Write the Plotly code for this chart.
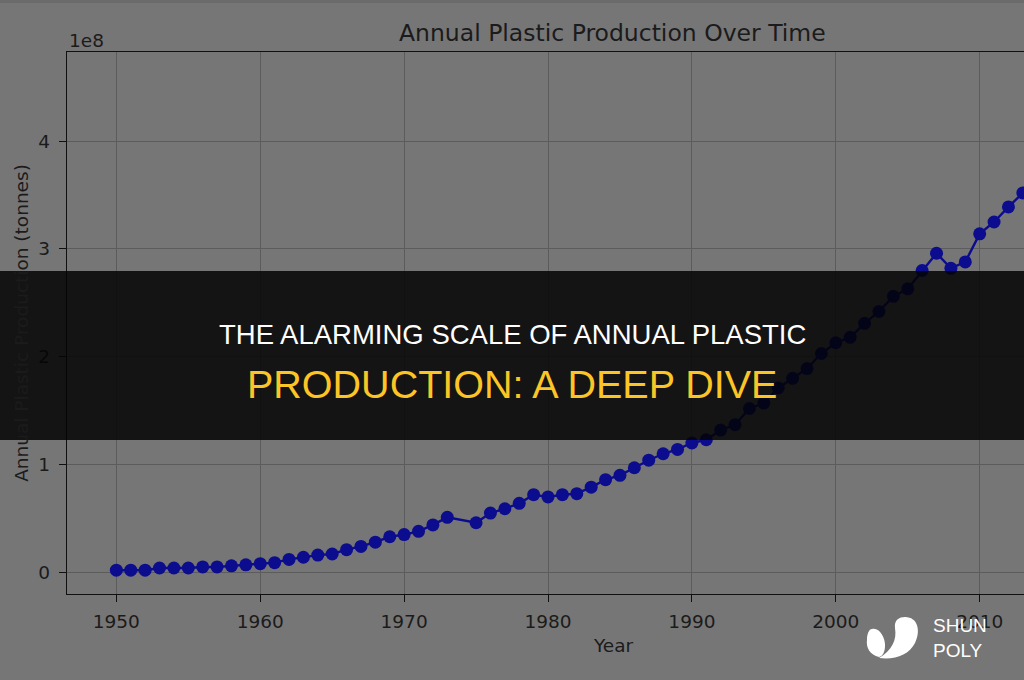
import plotly.graph_objects as go

# ---------------- data ----------------
years = [1950, 1951, 1952, 1953, 1954, 1955, 1956, 1957, 1958, 1959,
         1960, 1961, 1962, 1963, 1964, 1965, 1966, 1967, 1968, 1969,
         1970, 1971, 1972, 1973, 1975, 1976, 1977, 1978, 1979,
         1980, 1981, 1982, 1983, 1984, 1985, 1986, 1987, 1988, 1989,
         1990, 1991, 1992, 1993, 1994, 1995, 1996, 1997, 1998, 1999,
         2000, 2001, 2002, 2003, 2004, 2005, 2006, 2007, 2008, 2009,
         2010, 2011, 2012, 2013]
production_millions = [2, 2, 2, 4, 4, 4, 5, 5, 6, 7,
                       8, 9, 12, 14, 16, 17, 21, 24, 28, 33,
                       35, 38, 44, 51, 46, 55, 59, 64, 72,
                       70, 72, 73, 79, 86, 90, 97, 104, 110, 114,
                       120, 123, 132, 137, 152, 157, 171, 180, 189, 203,
                       213, 218, 231, 242, 256, 263, 280, 296, 282, 288,
                       314, 325, 339, 352]
production = [v * 1e6 for v in production_millions]

x_ticks = [1950, 1960, 1970, 1980, 1990, 2000, 2010]
y_ticks = [0, 1e8, 2e8, 3e8, 4e8]
y_tick_labels = ["0", "1", "2", "3", "4"]

chart_title = "Annual Plastic Production Over Time"
x_label = "Year"
y_label = "Annual Plastic Production (tonnes)"
offset_label = "1e8"
headline_1 = "THE ALARMING SCALE OF ANNUAL PLASTIC"
headline_2 = "PRODUCTION: A DEEP DIVE"
brand = "SHUN<br>POLY"

# ---------------- layout helpers ----------------
W, H = 1024, 680
L, R, T, B = 67, 1024, 52, 594   # plot area in pixels


def px(x):
    return (x - L) / (R - L)


def py(y):
    return (B - y) / (B - T)


BG = "#767676"
TXT = "#1b1b1b"
GRID = "#5c5c5c"
SPINE = "#101010"
MARK = "#0c0c8e"

fig = go.Figure()
fig.add_trace(go.Scatter(
    x=years, y=production, mode="lines+markers",
    line=dict(color=MARK, width=2.4),
    marker=dict(color=MARK, size=13),
    hoverinfo="skip", showlegend=False,
))

axis_font = dict(family="DejaVu Sans", size=18.5, color=TXT)

fig.update_xaxes(
    range=[1946.57, 2013.08], tickvals=x_ticks,
    showgrid=True, gridcolor=GRID, gridwidth=1.3, zeroline=False,
    showline=True, linecolor=SPINE, linewidth=1.4, mirror=True,
    ticks="outside", ticklen=7, tickwidth=1.2, tickcolor=SPINE,
    tickfont=axis_font, ticklabelstandoff=4,
)
fig.update_yaxes(
    range=[-0.201e8, 4.827e8], tickvals=y_ticks, ticktext=y_tick_labels,
    showgrid=True, gridcolor=GRID, gridwidth=1.3, zeroline=False,
    showline=True, linecolor=SPINE, linewidth=1.4, mirror=True,
    ticks="outside", ticklen=7, tickwidth=1.2, tickcolor=SPINE,
    tickfont=axis_font, ticklabelstandoff=5,
    title=dict(text=y_label, font=axis_font, standoff=4),
)

shapes = [
    # thin strip at top of image
    dict(type="rect", xref="paper", yref="paper", layer="below",
         x0=px(0), x1=px(W), y0=py(0), y1=py(3),
         fillcolor="#6b6b6b", line=dict(width=0)),
    # dark headline band
    dict(type="rect", xref="paper", yref="paper", layer="above",
         x0=px(0), x1=px(W), y0=py(440), y1=py(271),
         fillcolor="#030303", opacity=0.85, line=dict(width=0)),
]


def path_from(points):
    # points: list of segments; first is a move-to, rest are cubic triples
    s = "M %.4f %.4f" % (px(points[0][0]), py(points[0][1]))
    for c in points[1:]:
        s += " C " + ", ".join("%.4f %.4f" % (px(a), py(b)) for a, b in c)
    return s + " Z"


logo_big = [(905, 617),
            [(918, 617), (921, 631), (915, 643)],
            [(909, 655), (895, 660), (879, 658)],
            [(892, 650), (897, 640), (895, 628)],
            [(894, 620), (899, 617), (905, 617)]]
logo_small = [(872, 629),
              [(879, 627), (885, 637), (885, 645)],
              [(885, 652), (883, 656), (879, 657)],
              [(870, 655), (866, 648), (867, 640)],
              [(867, 634), (869, 629), (872, 629)]]
for p in (logo_big, logo_small):
    shapes.append(dict(type="path", xref="paper", yref="paper", layer="above",
                       path=path_from(p), fillcolor="white",
                       line=dict(width=0)))

annotations = [
    dict(text=chart_title, x=px(612), y=py(33), xref="paper", yref="paper",
         showarrow=False, xanchor="center", yanchor="middle",
         font=dict(family="DejaVu Sans", size=23.5, color=TXT)),
    dict(text=offset_label, x=px(67), y=py(40), xref="paper", yref="paper",
         showarrow=False, xanchor="left", yanchor="middle",
         font=dict(family="DejaVu Sans", size=18.5, color=TXT)),
    dict(text=x_label, x=px(613), y=py(645), xref="paper", yref="paper",
         showarrow=False, xanchor="center", yanchor="middle",
         font=dict(family="DejaVu Sans", size=18.5, color=TXT)),
    dict(text=headline_1, x=px(512), y=py(334), xref="paper", yref="paper",
         showarrow=False, xanchor="center", yanchor="middle",
         font=dict(family="Liberation Sans", size=27.5, color="#ffffff")),
    dict(text=headline_2, x=px(512), y=py(384), xref="paper", yref="paper",
         showarrow=False, xanchor="center", yanchor="middle",
         font=dict(family="Liberation Sans", size=39.5, color="#fcc526")),
    dict(text=brand, x=px(931), y=py(638), xref="paper", yref="paper",
         showarrow=False, xanchor="left", yanchor="middle", align="left",
         font=dict(family="Liberation Sans", size=19, color="#ffffff")),
]

fig.update_layout(
    width=W, height=H,
    margin=dict(l=L, r=W - R, t=T, b=H - B, pad=0),
    paper_bgcolor=BG, plot_bgcolor=BG,
    shapes=shapes, annotations=annotations,
    showlegend=False,
)

fig.write_html("out.html", config={"displayModeBar": False})
